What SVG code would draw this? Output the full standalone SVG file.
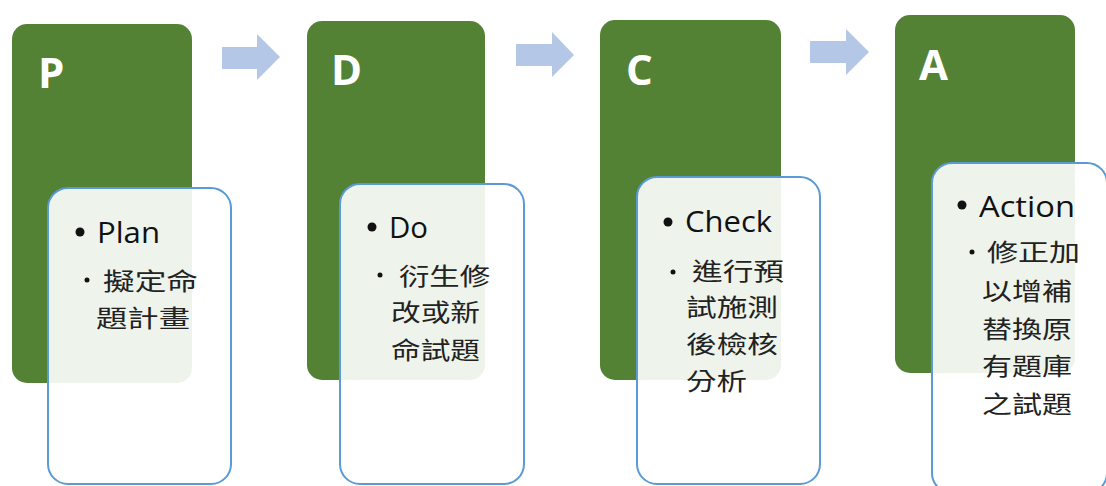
<svg xmlns="http://www.w3.org/2000/svg" width="1106" height="486" viewBox="0 0 1106 486">
<style>
.g{fill:#548235}
.b{fill:#ffffff;fill-opacity:0.9;stroke:#5B9BD5;stroke-width:2}
.h{font-family:"Open Sans","Liberation Sans",sans-serif;font-weight:700;font-size:42px;fill:#ffffff}
.t{font-family:"Open Sans","Liberation Sans",sans-serif;font-size:30px;fill:#111111}
.c{font-family:"Noto Sans CJK TC","Noto Sans CJK SC",sans-serif;font-size:24px;fill:#222222}
.d{fill:#111111}
.ar{fill:#B4C7E7}
</style>
<rect width="1106" height="486" fill="#ffffff"/>
<g id="connectors">
<polygon class="ar" points="222,47 257,47 257,34 280,57 257,80 257,69 222,69"/>
<polygon class="ar" points="516,44 552,44 552,32 574,55 552,77 552,66 516,66"/>
<polygon class="ar" points="810,41 846,41 846,29 869,52 846,75 846,63 810,63"/>
</g>
<g id="node-P">
<rect class="g" x="12" y="24" width="180" height="359" rx="15"/>
<text class="h" x="38" y="88">P</text>
<rect class="b" x="48" y="188" width="183" height="296" rx="20"/>
<circle class="d" cx="80" cy="232" r="4.5"/>
<text class="t" x="97" y="243" textLength="63" lengthAdjust="spacingAndGlyphs">Plan</text>
<circle class="d" cx="87" cy="280" r="2.5"/>
<text class="c" x="103" y="290" textLength="95" lengthAdjust="spacingAndGlyphs">擬定命</text>
<text class="c" x="96" y="327" textLength="94" lengthAdjust="spacingAndGlyphs">題計畫</text>
</g>
<g id="node-D">
<rect class="g" x="307" y="21" width="178" height="359" rx="15"/>
<text class="h" x="331" y="85">D</text>
<rect class="b" x="340" y="184" width="184" height="300" rx="20"/>
<circle class="d" cx="372" cy="227" r="4.5"/>
<text class="t" x="389" y="238" textLength="39" lengthAdjust="spacingAndGlyphs">Do</text>
<circle class="d" cx="380" cy="275" r="2.5"/>
<text class="c" x="399" y="285" textLength="91" lengthAdjust="spacingAndGlyphs">衍生修</text>
<text class="c" x="391" y="321" textLength="89" lengthAdjust="spacingAndGlyphs">改或新</text>
<text class="c" x="391" y="359" textLength="89" lengthAdjust="spacingAndGlyphs">命試題</text>
</g>
<g id="node-C">
<rect class="g" x="600" y="20" width="181" height="360" rx="15"/>
<text class="h" x="626" y="85">C</text>
<rect class="b" x="637" y="177" width="183" height="307" rx="20"/>
<circle class="d" cx="668" cy="222" r="4.5"/>
<text class="t" x="685" y="232" textLength="87" lengthAdjust="spacingAndGlyphs">Check</text>
<circle class="d" cx="673" cy="272" r="2.5"/>
<text class="c" x="692" y="280" textLength="92" lengthAdjust="spacingAndGlyphs">進行預</text>
<text class="c" x="686" y="316" textLength="92" lengthAdjust="spacingAndGlyphs">試施測</text>
<text class="c" x="686" y="353" textLength="92" lengthAdjust="spacingAndGlyphs">後檢核</text>
<text class="c" x="686" y="390" textLength="61" lengthAdjust="spacingAndGlyphs">分析</text>
</g>
<g id="node-A">
<rect class="g" x="895" y="15" width="180" height="358" rx="15"/>
<text class="h" x="919" y="80">A</text>
<rect class="b" x="932" y="163" width="175" height="330" rx="20"/>
<circle class="d" cx="962" cy="205" r="4.5"/>
<text class="t" x="979" y="217" textLength="96" lengthAdjust="spacingAndGlyphs">Action</text>
<circle class="d" cx="972" cy="252" r="2.5"/>
<text class="c" x="987" y="261" textLength="93" lengthAdjust="spacingAndGlyphs">修正加</text>
<text class="c" x="982" y="300" textLength="90" lengthAdjust="spacingAndGlyphs">以增補</text>
<text class="c" x="982" y="338" textLength="90" lengthAdjust="spacingAndGlyphs">替換原</text>
<text class="c" x="982" y="375" textLength="90" lengthAdjust="spacingAndGlyphs">有題庫</text>
<text class="c" x="982" y="413" textLength="90" lengthAdjust="spacingAndGlyphs">之試題</text>
</g>
</svg>
